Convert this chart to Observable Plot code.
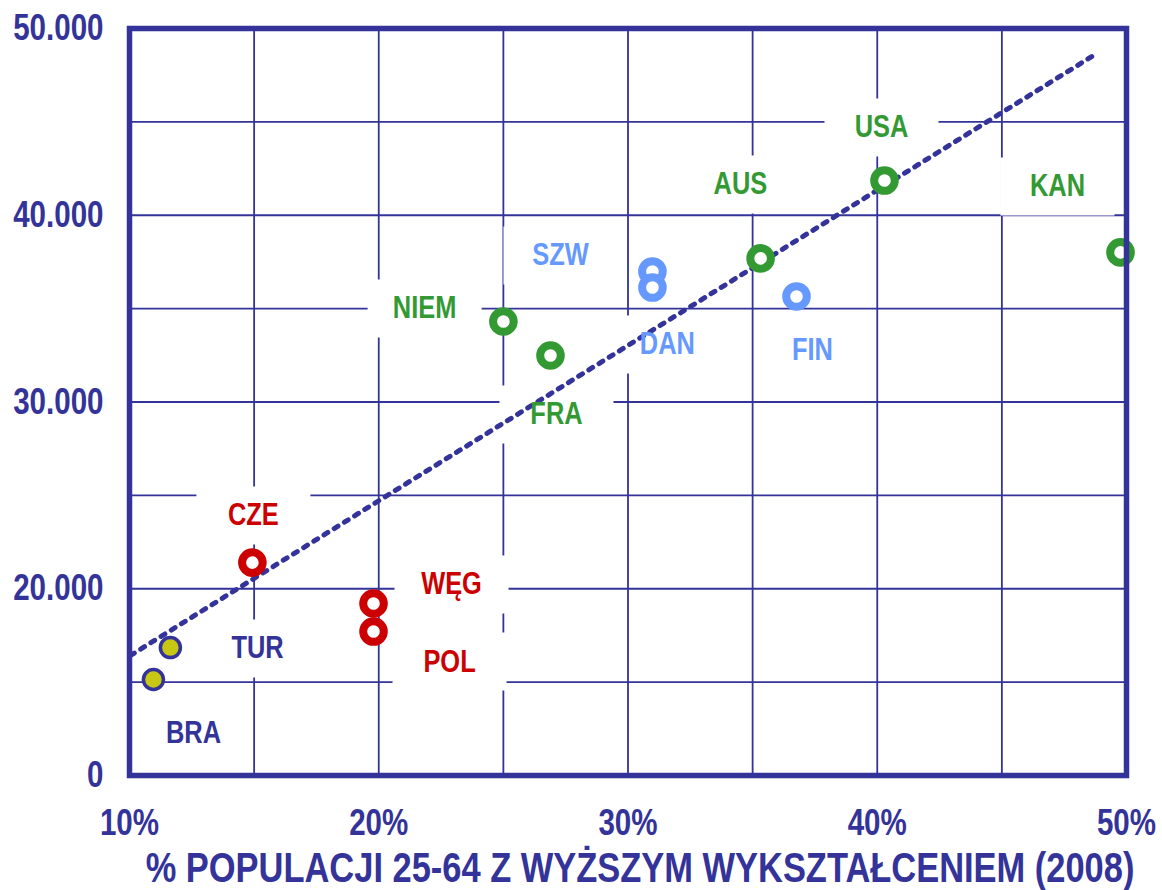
<!DOCTYPE html>
<html>
<head>
<meta charset="utf-8">
<script src="https://cdn.jsdelivr.net/npm/d3@7"></script>
<script src="https://cdn.jsdelivr.net/npm/@observablehq/plot@0.6"></script>
<style>
  html, body { margin: 0; padding: 0; background: #fff; }
</style>
</head>
<body>
<div id="chart"></div>
<script>
// ---- data ----
const countries   = ["BRA", "TUR", "CZE", "WĘG", "POL", "NIEM", "FRA", "SZW", "DAN", "AUS", "FIN", "USA", "KAN"];
const groups      = ["yellow", "yellow", "red", "red", "red", "green", "green", "blue", "blue", "green", "blue", "green", "green"];
const educationPct = [10.96, 11.64, 14.93, 19.79, 19.79, 25.0, 26.89, 30.98, 30.98, 35.32, 36.76, 40.29, 49.76];
const gdpPerCapita = [15140, 16850, 21400, 19210, 17710, 34310, 32490, 36990, 36130, 37690, 35650, 41860, 38010];
// label anchor positions (data units)
const labelX = [12.57, 15.14, 14.97, 22.92, 22.84, 21.84, 27.13, 27.29, 31.58, 34.51, 37.40, 40.17, 47.23];
const labelY = [12250, 16800, 23920, 20230, 16100, 35010, 29330, 37850, 33080, 41650, 32760, 44700, 41540];
// trend line endpoints
const trendX = [10.04, 48.68];
const trendY = [16430, 48560];
// ticks
const xTicks = [10, 20, 30, 40, 50];
const xTickLabels = ["10%", "20%", "30%", "40%", "50%"];
const yTicks = [10000, 20000, 30000, 40000, 50000];
const yTickLabels = ["0", "20.000", "30.000", "40.000", "50.000"];
const xGrid = [15, 20, 25, 30, 35, 40, 45];
const yGrid = [15000, 20000, 25000, 30000, 35000, 40000, 45000];
const xTitle = "% POPULACJI 25-64 Z WYŻSZYM WYKSZTAŁCENIEM (2008)";

// ---- styles ----
const NAVY = "#333399";
const palette = { yellow: "#c8c814", red: "#cc0000", green: "#339933", blue: "#6699ff" };
const FONT = "'Liberation Sans Narrow', 'Arial Narrow', 'Liberation Sans', Arial, sans-serif";

const points = countries.map((c, i) => ({ country: c, group: groups[i], x: educationPct[i], y: gdpPerCapita[i] }));
const labels = countries.map((c, i) => ({ country: c, group: groups[i], x: labelX[i], y: labelY[i] }));
const trend = trendX.map((x, i) => ({ x, y: trendY[i] }));

// white background box behind labels (custom symbol)
const labelBox = { draw(ctx) { ctx.rect(-57, -29, 114, 58); } };

const chart = Plot.plot({
  width: 1162,
  height: 890,
  marginLeft: 129,
  marginRight: 36,
  marginTop: 28,
  marginBottom: 115,
  style: { fontFamily: FONT, fontWeight: "bold", background: "white", overflow: "visible" },
  x: { domain: [10, 50], type: "linear" },
  y: { domain: [10000, 50000], type: "linear" },
  marks: [
    Plot.gridX(xGrid, { stroke: NAVY, strokeOpacity: 1, strokeWidth: 1.8 }),
    Plot.gridY(yGrid, { stroke: NAVY, strokeOpacity: 1, strokeWidth: 1.8 }),
    Plot.dot(labels, { x: "x", y: "y", symbol: labelBox, fill: "white", stroke: null }),
    Plot.line(trend, { x: "x", y: "y", stroke: NAVY, strokeWidth: 5, strokeDasharray: "4.5,7.5" }),
    Plot.dot(points.filter(d => d.group !== "yellow"), {
      x: "x", y: "y", r: 10.3, fill: "white", stroke: d => palette[d.group], strokeWidth: 8
    }),
    Plot.dot(points.filter(d => d.group === "yellow"), {
      x: "x", y: "y", r: 10, fill: palette.yellow, stroke: NAVY, strokeWidth: 3.5
    }),
    Plot.text(labels, {
      x: "x", y: "y", text: "country", fill: d => d.group === "yellow" ? NAVY : palette[d.group],
      fontSize: 31, fontWeight: "bold"
    }),
    Plot.frame({ stroke: NAVY, strokeWidth: 5.5 }),
    Plot.axisY(yTicks, {
      tickFormat: d => yTickLabels[yTicks.indexOf(d)], tickSize: 0, tickPadding: 26,
      fontSize: 36, color: NAVY, label: null
    }),
    Plot.axisX(xTicks, {
      tickFormat: d => xTickLabels[xTicks.indexOf(d)], tickSize: 0, tickPadding: 34,
      fontSize: 36, color: NAVY, label: null
    }),
    Plot.text([xTitle], {
      frameAnchor: "bottom", dx: 12, dy: 106, fontSize: 42, fill: NAVY, fontWeight: "bold"
    })
  ]
});
document.getElementById("chart").appendChild(chart);

// condense text horizontally (the original uses a narrow typeface)
chart.querySelectorAll("text").forEach(el => {
  const w = el.getComputedTextLength();
  if (w > 0) {
    el.setAttribute("textLength", (w * 0.82).toFixed(1));
    el.setAttribute("lengthAdjust", "spacingAndGlyphs");
  }
});
</script>
</body>
</html>
